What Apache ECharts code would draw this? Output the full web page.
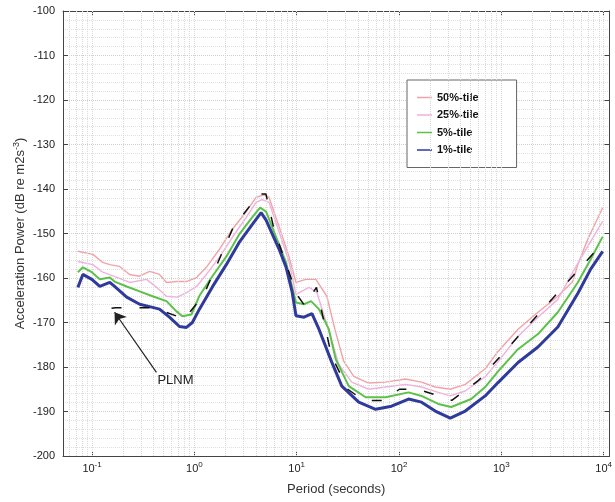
<!DOCTYPE html>
<html>
<head>
<meta charset="utf-8">
<script src="https://cdn.jsdelivr.net/npm/echarts@6/dist/echarts.min.js"></script>
<style>
html, body { margin: 0; padding: 0; background: #fff; }
#chart { width: 615px; height: 502px; }
</style>
</head>
<body>
<div id="chart"></div>
<script>
// period (s), acceleration power (dB)
var p50 = [[0.0727,-154.0],[0.102,-154.7],[0.127,-156.5],[0.149,-157.0],[0.186,-157.4],[0.233,-159.2],[0.292,-159.6],[0.365,-158.5],[0.456,-159.2],[0.534,-161.0],[0.668,-160.8],[0.836,-160.8],[1.05,-159.9],[1.31,-157.6],[1.75,-153.6],[2.34,-149.1],[3.21,-145.1],[4.01,-141.9],[4.8,-141.3],[5.37,-141.9],[6.72,-148.4],[8.41,-155.2],[9.84,-161.0],[12.3,-160.3],[15.4,-160.3],[19.7,-164.1],[23.6,-171.5],[28.8,-178.7],[36.1,-182.1],[50.5,-183.6],[73.9,-183.4],[116,-182.7],[166,-183.4],[226,-184.5],[317,-185.0],[444,-183.9],[695,-180.4],[929,-176.5],[1456,-171.5],[2280,-167.7],[3565,-164.1],[4990,-160.8],[5585,-157.0],[6985,-151.3],[9780,-144.2]];
var p25 = [[0.0727,-156.3],[0.102,-157.0],[0.127,-158.7],[0.178,-159.9],[0.233,-161.0],[0.341,-160.3],[0.427,-162.1],[0.534,-164.1],[0.683,-164.3],[0.855,-163.2],[1.05,-161.9],[1.31,-159.2],[1.75,-155.4],[2.34,-150.9],[3.21,-146.4],[4.01,-143.0],[4.59,-142.4],[5.37,-143.0],[6.72,-149.6],[8.41,-156.3],[9.84,-163.7],[13.2,-162.1],[15.7,-163.2],[19.7,-170.4],[25.8,-179.4],[34.5,-183.4],[50.5,-185.0],[73.9,-184.5],[116,-183.9],[166,-184.5],[242,-185.7],[317,-186.5],[444,-185.4],[695,-182.2],[929,-178.8],[1456,-173.1],[2280,-168.8],[3565,-164.8],[4990,-158.7],[6985,-152.9],[9780,-147.3]];
var p05 = [[0.0727,-158.7],[0.0813,-157.6],[0.0995,-158.7],[0.119,-160.3],[0.149,-159.9],[0.166,-160.8],[0.218,-161.9],[0.292,-163.0],[0.39,-164.1],[0.534,-165.2],[0.668,-167.5],[0.764,-168.6],[0.935,-168.2],[1.12,-164.0],[1.5,-159.6],[2.05,-155.2],[2.74,-150.2],[3.67,-146.4],[4.39,-144.2],[5.02,-145.1],[6.42,-151.3],[7.86,-156.5],[9.84,-165.5],[11.8,-165.9],[13.8,-165.2],[16.5,-167.0],[20.6,-171.5],[24.1,-178.3],[32.3,-184.3],[47.2,-186.8],[73.9,-186.8],[124,-185.7],[166,-186.5],[242,-188.3],[324,-189.0],[508,-187.2],[695,-184.5],[929,-181.0],[1456,-176.0],[2280,-172.6],[3565,-167.7],[5585,-161.0],[7470,-155.8],[9780,-150.7]];
var p01 = [[0.0727,-162.1],[0.0813,-159.2],[0.0995,-160.3],[0.119,-161.9],[0.149,-161.0],[0.166,-161.9],[0.218,-164.3],[0.292,-165.9],[0.39,-166.6],[0.456,-167.0],[0.571,-168.8],[0.715,-170.9],[0.836,-171.1],[0.956,-170.0],[1.12,-167.0],[1.5,-162.0],[2.05,-157.0],[2.74,-152.0],[3.67,-148.0],[4.49,-145.3],[5.02,-147.0],[6.72,-153.5],[7.86,-157.5],[9.0,-163.0],[9.84,-168.5],[11.8,-168.8],[14.1,-168.0],[16.5,-171.5],[22.0,-178.9],[27.6,-184.3],[40.4,-187.9],[59.0,-189.5],[84.5,-188.8],[124,-187.2],[166,-187.9],[226,-189.9],[317,-191.5],[444,-189.9],[695,-186.5],[929,-183.5],[1456,-179.0],[2280,-175.5],[3565,-171.0],[5585,-163.5],[7470,-158.0],[9780,-154.0]];
var plnm = [[0.155,-166.8],[0.17,-166.7],[0.4,-166.7],[0.8,-169.2],[1.24,-163.7],[2.4,-148.6],[4.3,-141.1],[5.0,-141.1],[6.0,-149.0],[10,-163.7],[12,-166.2],[15.6,-162.1],[21.9,-177.5],[31.6,-185.0],[45,-187.5],[70,-187.5],[101,-185.0],[154,-185.0],[328,-187.5],[600,-183.0],[10000,-151.9]];

var names = ['50%-tile', '25%-tile', '5%-tile', '1%-tile'];
var colors = ['#f2a3a8', '#efb2dc', '#5cc14a', '#2f3a9c'];
var widths = [1.4, 1.4, 2, 3];
var xRange = [0.052, 11400];
var yRange = [-200, -100];
var arrowPts = [[0.426, -181.2], [0.166, -167.7]];
var plnmLabelAt = [0.653, -183.0];

var chart = echarts.init(document.getElementById('chart'), null, {renderer: 'canvas'});

// dotted vertical grid at 1..9 of each decade
var gridX = [];
for (var d = -2; d <= 4; d++) {
    for (var k = 1; k <= 9; k++) {
        var v = k * Math.pow(10, d);
        if (v > xRange[0] && v < xRange[1]) gridX.push({xAxis: v});
    }
}

var font = 'Liberation Sans';
var tickLabel = {color: '#222', fontSize: 11, fontFamily: font};

function powLabel(v) {
    var e = Math.log10(v);
    var r = Math.round(e);
    if (Math.abs(e - r) > 1e-6) return '';
    return '{b|10}{s|' + r + '}';
}

var series = [{
    type: 'line',
    data: [],
    z: 1,
    silent: true,
    markLine: {
        silent: true,
        symbol: ['none', 'none'],
        label: {show: false},
        animation: false,
        lineStyle: {type: 'dotted', color: '#d9d9d9', width: 1},
        data: gridX
    }
}];
names.forEach(function (n, i) {
    series.push({
        name: n,
        type: 'line',
        data: [p50, p25, p05, p01][i],
        showSymbol: false,
        symbol: 'none',
        z: 3 + i,
        lineStyle: {color: colors[i], width: widths[i]},
        itemStyle: {color: colors[i]}
    });
});
series.push({
    name: 'PLNM',
    type: 'line',
    data: plnm,
    showSymbol: false,
    symbol: 'none',
    z: 8,
    lineStyle: {color: '#111', width: 1.5, type: [10, 18]},
    markLine: {
        silent: true,
        symbol: ['none', 'arrow'],
        symbolSize: 11,
        label: {show: false},
        lineStyle: {type: 'solid', color: '#222', width: 1.2},
        data: [[{coord: arrowPts[0]}, {coord: arrowPts[1]}]]
    },
    markPoint: {
        silent: true,
        symbol: 'circle',
        symbolSize: 1,
        itemStyle: {color: 'rgba(0,0,0,0)'},
        label: {show: true, position: 'inside', formatter: 'PLNM', color: '#222', fontSize: 13, fontFamily: font},
        data: [{coord: plnmLabelAt}]
    }
});

var option = {
    animation: false,
    backgroundColor: '#fff',
    grid: {left: 63, right: 3, top: 11, bottom: 46},
    legend: {
        data: names,
        orient: 'vertical',
        left: 407,
        top: 80,
        padding: [12, 38, 12, 10],
        itemGap: 6.5,
        itemWidth: 15,
        itemHeight: 1.5,
        icon: 'rect',
        borderColor: '#666',
        borderWidth: 1,
        backgroundColor: '#fff',
        textStyle: {color: '#111', fontSize: 11, fontWeight: 'bold', fontFamily: font, lineHeight: 11}
    },
    xAxis: [{
        type: 'log',
        min: xRange[0],
        max: xRange[1],
        name: 'Period (seconds)',
        nameLocation: 'middle',
        nameGap: 27,
        nameTextStyle: {color: '#333', fontSize: 13, fontFamily: font},
        axisLine: {lineStyle: {color: '#444', width: 1}},
        axisTick: {inside: true, length: 5, lineStyle: {color: '#444'}},
        axisLabel: {
            formatter: powLabel, showMinLabel: false, showMaxLabel: false, margin: 5,
            rich: {
                b: tickLabel,
                s: {color: '#222', fontSize: 8, fontFamily: font, padding: [0, 0, 8, 0]}
            }
        },
        splitLine: {show: false}
    }, {
        type: 'log',
        position: 'top',
        min: xRange[0],
        max: xRange[1],
        axisLine: {lineStyle: {color: '#444', width: 1}},
        axisTick: {inside: true, length: 5, lineStyle: {color: '#444'}},
        axisLabel: {show: false},
        splitLine: {show: false}
    }],
    yAxis: [{
        type: 'value',
        min: yRange[0],
        max: yRange[1],
        interval: 10,
        name: 'Acceleration Power (dB re m2s{sup|-3})',
        nameLocation: 'middle',
        nameGap: 34,
        nameMoveOverlap: false,
        nameTextStyle: {
            color: '#333', fontSize: 13, fontFamily: font,
            rich: {sup: {color: '#333', fontSize: 9, fontFamily: font, padding: [0, 0, 8, 0]}}
        },
        axisLine: {show: true, lineStyle: {color: '#444', width: 1}},
        axisTick: {show: true, inside: true, length: 5, lineStyle: {color: '#444'}},
        axisLabel: tickLabel,
        splitLine: {show: true, lineStyle: {type: 'dotted', color: '#d0d0d0'}},
        minorTick: {show: false, splitNumber: 5},
        minorSplitLine: {show: true, lineStyle: {type: 'dotted', color: '#e0e0e0'}}
    }, {
        type: 'value',
        position: 'right',
        min: yRange[0],
        max: yRange[1],
        interval: 10,
        axisLine: {show: true, lineStyle: {color: '#444', width: 1}},
        axisTick: {show: true, inside: true, length: 5, lineStyle: {color: '#444'}},
        axisLabel: {show: false},
        splitLine: {show: false}
    }],
    series: series
};
chart.setOption(option);
</script>
</body>
</html>
